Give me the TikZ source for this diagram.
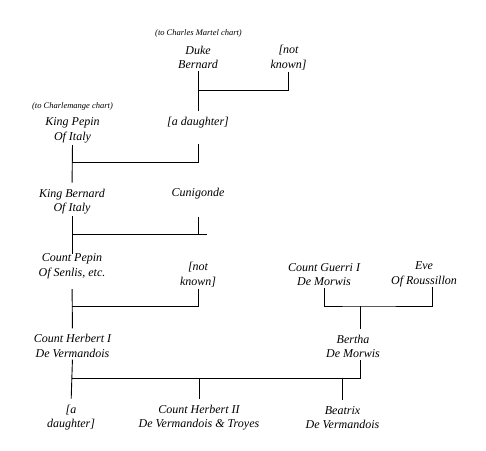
\documentclass[tikz,border=0pt]{standalone}
\usepackage{fontspec}
\setmainfont{Liberation Serif}
\begin{document}
\begin{tikzpicture}[x=1pt,y=-1pt,
  person/.style={align=center,font=\fontsize{12}{14.5}\selectfont\itshape,inner sep=0pt},
  note/.style={font=\fontsize{8.5}{10}\selectfont\itshape,inner sep=0pt},
  link/.style={line width=0.9pt},
  top/.style={shorten >=#1},
  bot/.style={shorten <=#1}]
\useasboundingbox (0,0) rectangle (486,450);
% texts
\node[note] (cm) at (198.5,33) {(to Charles Martel chart)};
\node[person] (duke) at (198,57.5) {Duke\\Bernard};
\node[person] (nk1) at (288.5,57.5) {[not\\known]};
\node[note] (cc) at (72.5,106) {(to Charlemange chart)};
\node[person] (kpep) at (72.5,130.5) {King Pepin\\Of Italy};
\node[person] (dau1) at (198,130.5) {[a daughter]\\\strut};
\node[person] (kber) at (72,201.5) {King Bernard\\Of Italy};
\node[person] (cuni) at (198,201.5) {Cunigonde\\\strut};
\node[person] (cpep) at (72,266.5) {Count Pepin\\Of Senlis, etc.};
\node[person] (nk2) at (198,274.5) {[not\\known]};
\node[person] (guer) at (324,274.5) {Count Guerri I\\De Morwis};
\node[person] (eve) at (424,274.5) {Eve\\Of Roussillon};
\node[person] (herb) at (72.5,346) {Count Herbert I\\De Vermandois};
\node[person] (bert) at (353,346.5) {Bertha\\De Morwis};
\node[person] (dau2) at (71,417.5) {[a\\daughter]};
\node[person] (herb2) at (199,417.5) {Count Herbert II\\De Vermandois \& Troyes};
\node[person] (beat) at (342.5,417.5) {Beatrix\\De Vermandois};
% junctions
\coordinate (j1) at (198,90);
\coordinate (j2) at (72,162);
\coordinate (j3) at (72,234);
\coordinate (j3e) at (207,234);
\coordinate (j4) at (72,306);
\coordinate (j5) at (360,306);
\coordinate (j6) at (72,378);
% connectors
\draw[link,bot=2pt,top=6pt] (duke.south) -- (dau1.north);
\draw[link,bot=2pt] (nk1.south) |- (j1);
\draw[link,bot=2pt,top=6pt] (kpep.south) -- (kber.north);
\draw[link,bot=0pt] (dau1.south) |- (j2);
\draw[link,bot=2pt,top=0pt] (kber.south) -- (cpep.north);
\draw[link] (j3) -- (j3e);
\draw[link,bot=2pt] (cuni.south) -- (cuni.south |- j3);
\draw[link,bot=10pt,top=6pt] (cpep.south) -- (herb.north);
\draw[link,bot=2pt] (nk2.south) |- (j4);
\draw[link,bot=2pt] (guer.south) |- (j5) -| ([xshift=8pt]eve.south);
\draw[link,top=6pt] (j5) -- ([xshift=7pt]bert.north);
\draw[link,bot=2pt,top=6pt] (herb.south) -- (dau2.north);
\draw[link,bot=2pt] ([xshift=7pt]bert.south) |- (j6);
\draw[link,bot=6pt] (herb2.north) -- (herb2.north |- j6);
\draw[link,bot=6pt] (beat.north) -- (beat.north |- j6);
\end{tikzpicture}
\end{document}
